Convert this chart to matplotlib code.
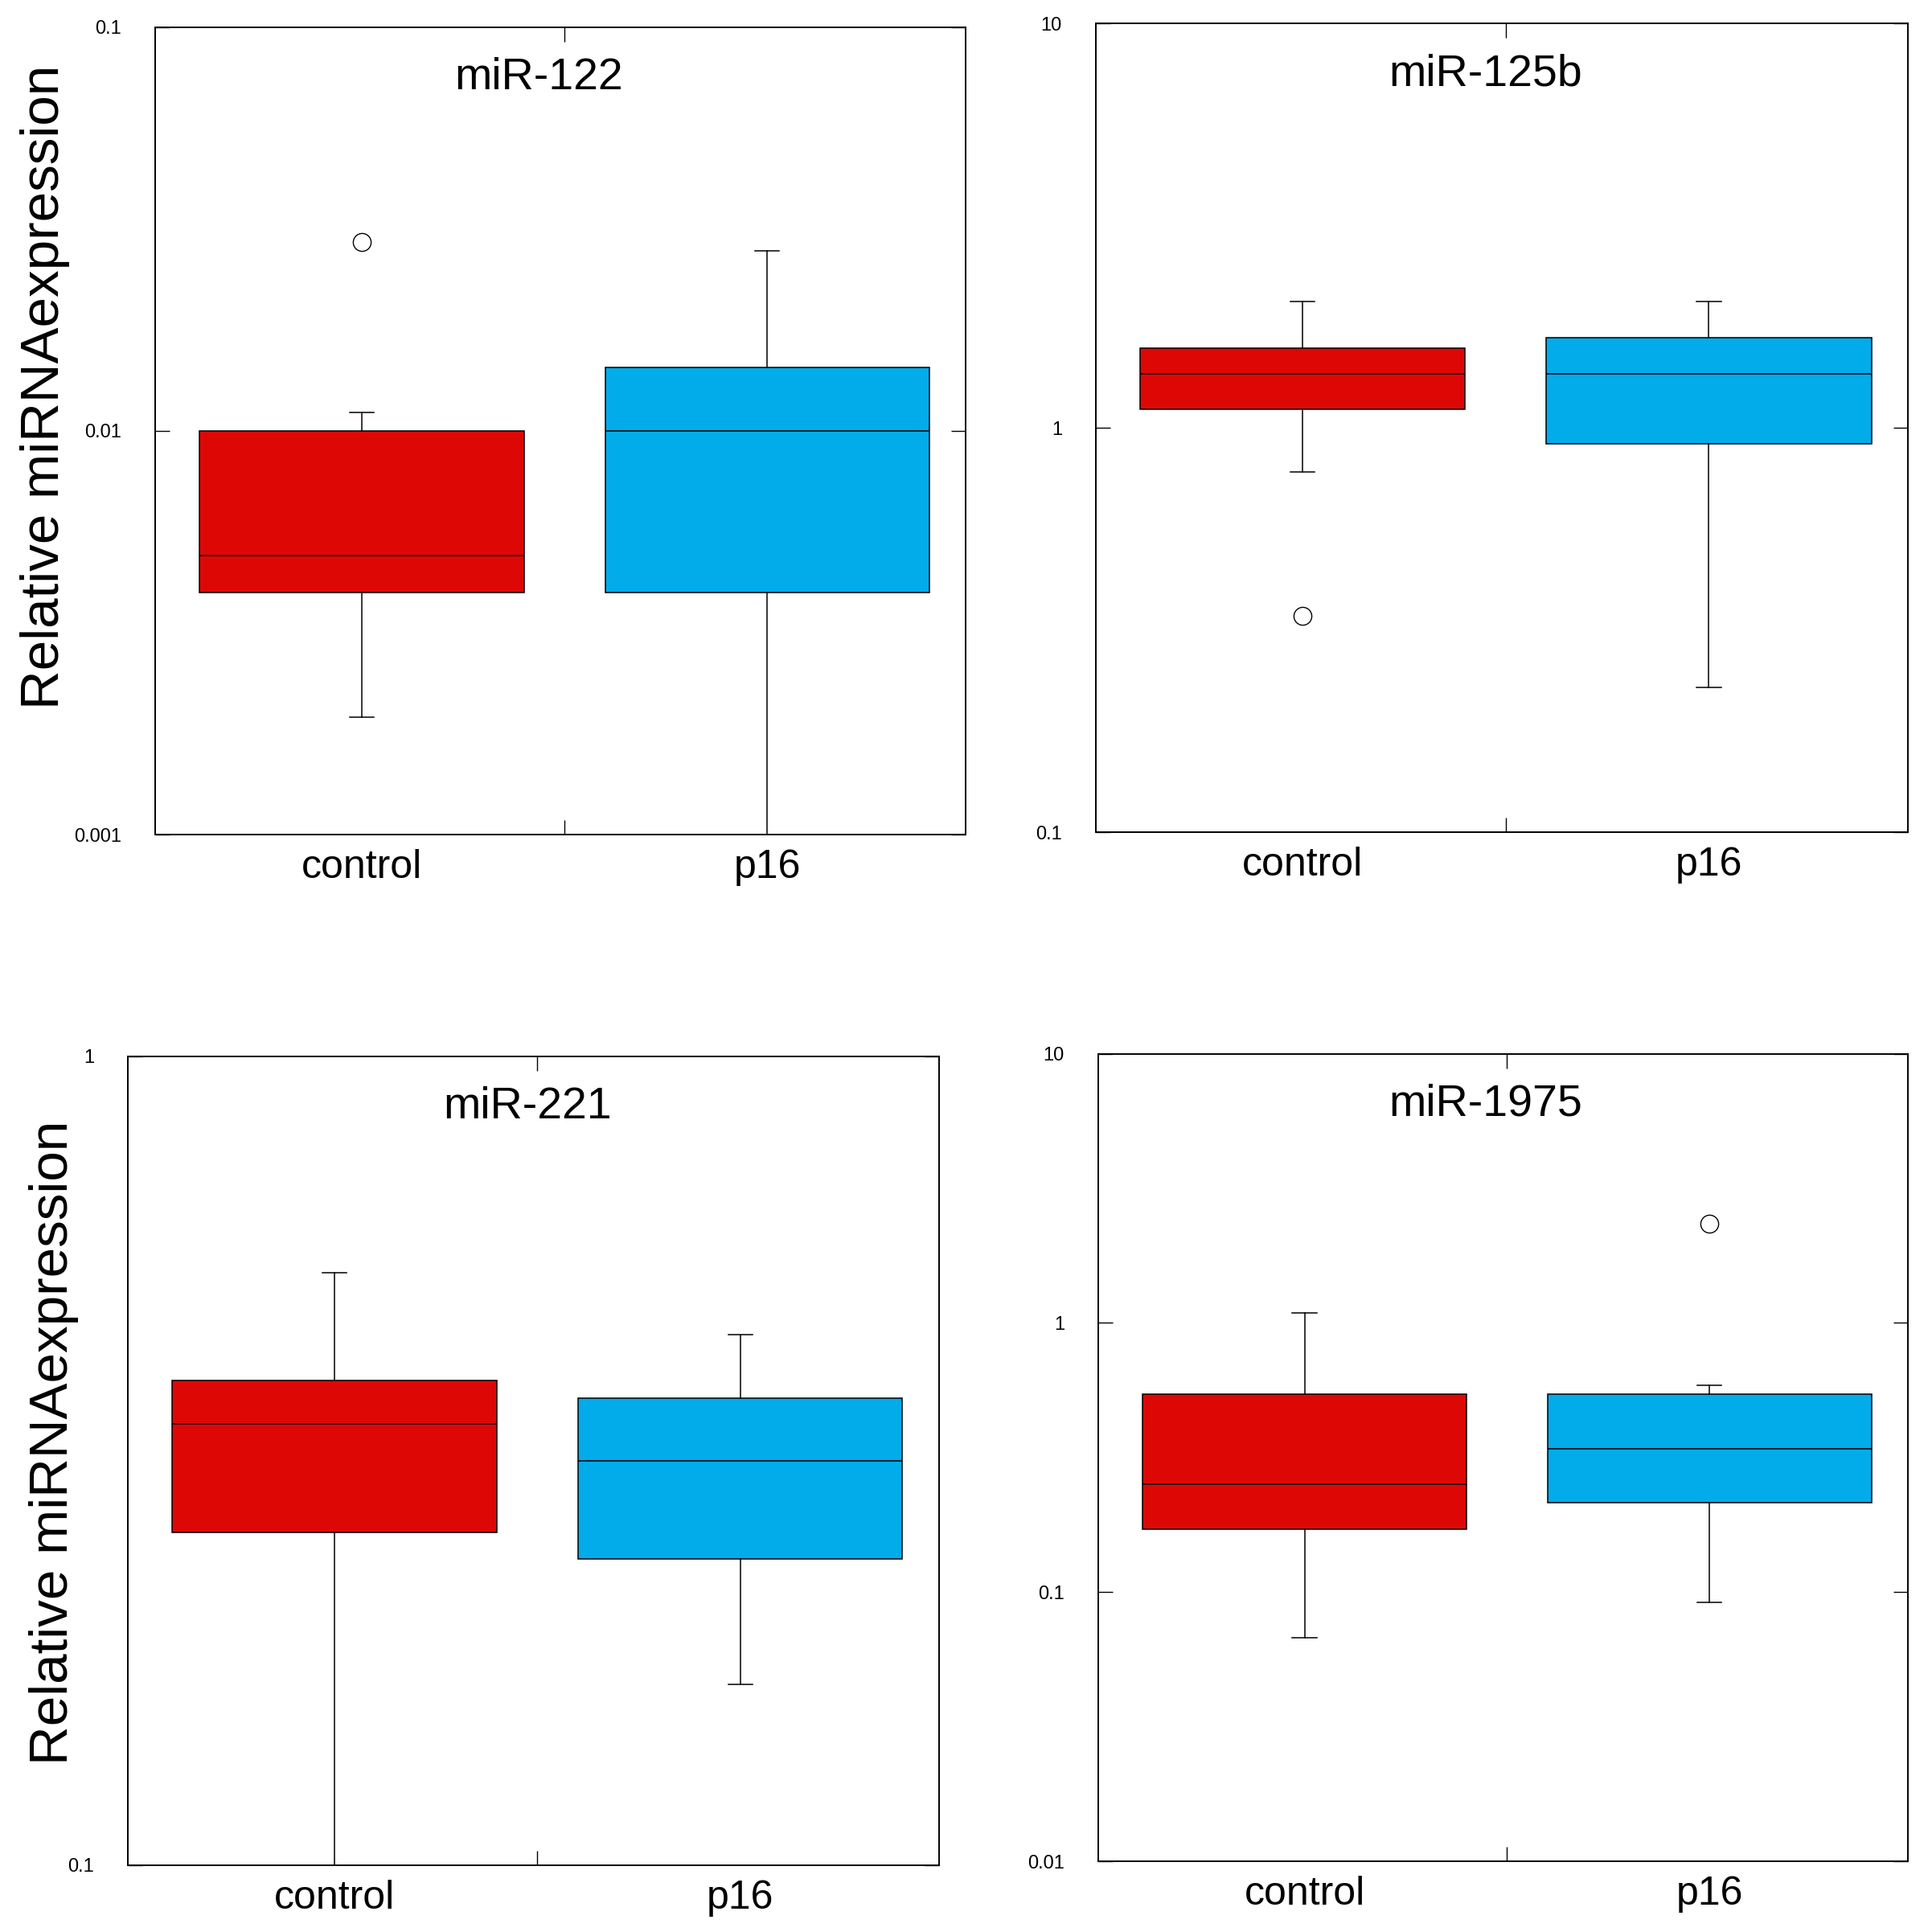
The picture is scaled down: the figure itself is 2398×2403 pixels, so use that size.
import matplotlib
matplotlib.use('Agg')
import matplotlib.pyplot as plt

plt.rcParams['font.family'] = ['Liberation Sans', 'DejaVu Sans']

groups = ['control', 'p16']
titles = ['miR-122', 'miR-125b', 'miR-221', 'miR-1975']
box_colors = ['#dd0806', '#02abea']

# whislo, q1, median, q3, whishi
mir122_control = [0.00196, 0.00398, 0.00491, 0.0100, 0.0111]
mir122_p16 = [0.0009, 0.00398, 0.0100, 0.01435, 0.0279]
mir122_outliers = [[0.0293], []]

mir125b_control = [0.777, 1.111, 1.361, 1.576, 2.056]
mir125b_p16 = [0.2286, 0.913, 1.361, 1.667, 2.056]
mir125b_outliers = [[0.343], []]

mir221_control = [0.09, 0.258, 0.351, 0.397, 0.540]
mir221_p16 = [0.1673, 0.239, 0.316, 0.378, 0.453]
mir221_outliers = [[], []]

mir1975_control = [0.0678, 0.171, 0.252, 0.543, 1.088]
mir1975_p16 = [0.0918, 0.2155, 0.342, 0.543, 0.585]
mir1975_outliers = [[], [2.34]]

y_limits = [(0.001, 0.1), (0.1, 10), (0.1, 1), (0.01, 10)]
y_ticks = [[0.001, 0.01, 0.1], [0.1, 1, 10], [0.1, 1], [0.01, 0.1, 1, 10]]
y_ticklabels = [['0.001', '0.01', '0.1'], ['0.1', '1', '10'],
                ['0.1', '1'], ['0.01', '0.1', '1', '10']]

panel_data = [
    (mir122_control, mir122_p16, mir122_outliers),
    (mir125b_control, mir125b_p16, mir125b_outliers),
    (mir221_control, mir221_p16, mir221_outliers),
    (mir1975_control, mir1975_p16, mir1975_outliers),
]

# axes rectangles in figure fractions
rects = [
    [0.0804, 0.5679, 0.4206, 0.4181],
    [0.5682, 0.5692, 0.4214, 0.4187],
    [0.0663, 0.0346, 0.4207, 0.4187],
    [0.5695, 0.0365, 0.4201, 0.4181],
]
title_x = [0.473, 0.480, 0.493, 0.479]

fig = plt.figure(figsize=(23.98, 24.03), dpi=100)

for i in range(4):
    ax = fig.add_axes(rects[i])
    ctrl, p16, outl = panel_data[i]
    stats = []
    for g, vals, fl in zip(groups, [ctrl, p16], outl):
        stats.append(dict(label=g, whislo=vals[0], q1=vals[1], med=vals[2],
                          q3=vals[3], whishi=vals[4], fliers=fl))
    bp = ax.bxp(stats, positions=[1, 2], widths=0.8, capwidths=0.06,
                patch_artist=True, showfliers=True, manage_ticks=False,
                boxprops=dict(linewidth=1.1, edgecolor='black'),
                whiskerprops=dict(linewidth=1.1, color='black'),
                capprops=dict(linewidth=1.1, color='black'),
                medianprops=dict(linewidth=1.1, color='black'),
                flierprops=dict(marker='o', markerfacecolor='white',
                                markeredgecolor='black', markersize=16,
                                markeredgewidth=1.0))
    for patch, c in zip(bp['boxes'], box_colors):
        patch.set_facecolor(c)

    ax.set_yscale('log')
    ax.set_ylim(*y_limits[i])
    ax.set_xlim(0.49, 2.49)
    ax.set_yticks(y_ticks[i], y_ticklabels[i])
    ax.minorticks_off()
    ax.set_xticks([1.5], [''])
    ax.set_xticks([1, 2], groups, minor=True)
    ax.tick_params(axis='x', which='minor', length=0, labelsize=36, pad=13)
    ax.tick_params(axis='x', which='major', direction='in', top=True,
                   bottom=True, length=13, width=1)
    ax.tick_params(axis='y', which='major', direction='in', left=True,
                   right=True, length=13, width=1, labelsize=17, pad=30)
    for sp in ax.spines.values():
        sp.set_linewidth(1.4)
    ax.text(title_x[i], 0.937, titles[i], transform=ax.transAxes,
            ha='center', va='center', fontsize=40)

fig.text(0.0235, 0.5679 + 0.4181 * 0.554, 'Relative miRNAexpression',
         rotation=90, ha='center', va='center', fontsize=48.5)
fig.text(0.0279, 0.0346 + 0.4187 * 0.522, 'Relative miRNAexpression',
         rotation=90, ha='center', va='center', fontsize=48.5)

fig.savefig('out.png', dpi=100)
